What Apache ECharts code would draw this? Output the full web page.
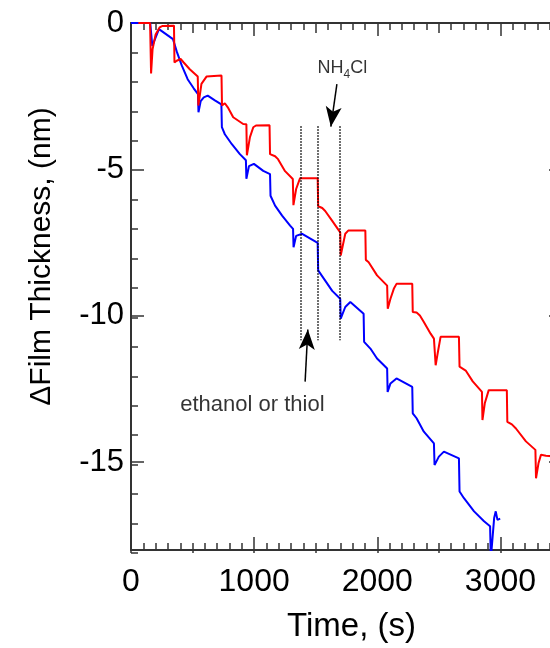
<!DOCTYPE html>
<html>
<head>
<meta charset="utf-8">
<script src="https://cdn.jsdelivr.net/npm/echarts@6/dist/echarts.min.js"></script>
<style>
    html, body {margin: 0; padding: 0; overflow: hidden; background: #fff;}
    #main {width: 564px; height: 648px;}
</style>
</head>
<body>
<div id="main"></div>
<script>
// red trace (time in s, film thickness change in nm)
const redTime = [60, 155, 163, 175, 200, 232, 257, 349, 353, 371, 403, 428, 477, 542, 547, 572, 613, 735, 739, 762,
    786, 830, 911, 937, 941, 966, 993, 1015, 1125, 1129, 1170, 1194, 1251, 1314, 1319, 1341, 1373, 1516, 1520, 1553,
    1577, 1634, 1699, 1703, 1740, 1764, 1903, 1907, 1930, 1998, 2080, 2085, 2107, 2134, 2156, 2284, 2288, 2319, 2346, 2378,
    2433, 2460, 2474, 2490, 2514, 2663, 2668, 2718, 2775, 2850, 2854, 2873, 2905, 3052, 3056, 3093, 3126, 3207, 3284, 3289,
    3309, 3329, 3370, 3420];
const redThick = [0, 0, -1.72, -0.90, -0.39, -0.15, -0.10, -0.09, -1.35, -1.29, -1.23, -1.35, -1.58, -1.83, -2.82, -2.08, -1.83, -1.79, -2.82, -2.74,
    -2.88, -3.22, -3.45, -3.46, -4.52, -3.90, -3.56, -3.50, -3.49, -4.48, -4.55, -4.65, -5.06, -5.33, -6.22, -5.67, -5.30, -5.30, -6.26, -6.32,
    -6.42, -6.76, -7.15, -7.94, -7.20, -7.09, -7.09, -8.09, -8.17, -8.62, -8.97, -9.76, -9.42, -9.08, -8.91, -8.91, -9.87, -9.89, -9.99, -10.21,
    -10.61, -10.78, -11.69, -11.29, -10.72, -10.72, -11.74, -11.87, -12.24, -12.60, -13.56, -12.99, -12.54, -12.54, -13.62, -13.71, -13.85, -14.29, -14.58, -15.55,
    -15.04, -14.75, -14.78, -14.80];

// blue trace
const blueTime = [0, 156, 173, 227, 341, 371, 412, 460, 509, 544, 548, 566, 591, 623, 681, 734, 738, 762, 819, 884,
    933, 937, 958, 998, 1074, 1129, 1133, 1170, 1227, 1292, 1316, 1320, 1341, 1390, 1516, 1520, 1577, 1634, 1699, 1703,
    1740, 1781, 1889, 1893, 1944, 1998, 2080, 2084, 2107, 2156, 2284, 2288, 2319, 2378, 2460, 2465, 2500, 2541, 2663, 2668,
    2704, 2786, 2867, 2916, 2922, 2949, 2962, 2976, 2998];
const blueThick = [0, 0, -0.78, -0.21, -0.55, -0.97, -1.45, -1.92, -2.23, -2.43, -3.05, -2.67, -2.54, -2.48, -2.64, -2.78, -3.56, -3.80, -4.14, -4.48,
    -4.69, -5.32, -4.89, -4.81, -5.05, -5.16, -5.90, -6.24, -6.58, -6.92, -7.03, -7.66, -7.27, -7.20, -7.51, -8.45, -8.80, -9.15, -9.42, -10.10,
    -9.70, -9.53, -9.93, -10.89, -11.12, -11.46, -11.80, -12.60, -12.31, -12.14, -12.43, -13.33, -13.50, -13.96, -14.36, -15.10, -14.81, -14.64, -14.87, -16.00,
    -16.23, -16.68, -17.02, -17.19, -18.3, -16.91, -16.68, -16.97, -16.93];

// axis ticks
const xMajorTicks = [0, 1000, 2000, 3000];
const yMajorTicks = [0, -5, -10, -15];

// annotations: dotted marker lines, arrows and their texts
const markerTimes = [1382, 1518, 1694];
const markerTop = -3.53;
const markerBottom = -10.84;
const arrowFrom = [[1414, -12.25], [1672, -2.09]];
const arrowTo = [[1436, -10.47], [1623, -3.54]];
const noteAt = [[986, -13.03], [1716, -1.53]];
const noteText = ['ethanol or thiol', '{a|NH}{b|4}{a|Cl}'];

const FONT = '"Liberation Sans", Arial, sans-serif';
const AXIS_COLOR = '#333';

const zip = (xs, ys) => xs.map((x, i) => [x, ys[i]]);

function xAxisOf(gridIndex, position, tickLen, interval, withLabels) {
    return {
        gridIndex,
        type: 'value',
        position,
        min: 0,
        max: 3500,
        interval,
        axisLine: {show: gridIndex === 0, onZero: false, lineStyle: {color: AXIS_COLOR, width: 2}},
        axisTick: {inside: true, length: tickLen, lineStyle: {color: AXIS_COLOR, width: 1.5}},
        minorTick: {show: gridIndex === 0, splitNumber: 10, length: 7, lineStyle: {color: AXIS_COLOR, width: 1.5}},
        axisLabel: {
            show: withLabels,
            customValues: xMajorTicks,
            margin: 16,
            fontSize: 32,
            fontFamily: FONT,
            color: '#000',
            formatter: v => String(v)
        },
        splitLine: {show: false},
        minorSplitLine: {show: false}
    };
}

function yAxisOf(gridIndex, position, withLabels) {
    let major = gridIndex === 0;
    let axis = {
        gridIndex,
        type: 'value',
        position,
        min: -18,
        max: 0,
        axisLine: {show: major, onZero: false, lineStyle: {color: AXIS_COLOR, width: 2}},
        axisTick: {inside: true, length: major ? 13 : 7, lineStyle: {color: AXIS_COLOR, width: 1.5}},
        axisLabel: {
            show: withLabels,
            margin: 7,
            fontSize: 31,
            fontFamily: FONT,
            color: '#000'
        },
        splitLine: {show: false}
    };
    if (major) {
        axis.axisTick.customValues = yMajorTicks;
        axis.axisLabel.customValues = yMajorTicks;
    } else {
        axis.interval = 1;
    }
    return axis;
}

const chart = echarts.init(document.getElementById('main'));

let xBottom = xAxisOf(0, 'bottom', 13, 1000, true);
xBottom.name = 'Time, (s)';
xBottom.nameLocation = 'middle';
xBottom.nameGap = 60;
xBottom.nameTextStyle = {fontSize: 33, fontFamily: FONT, color: '#000', padding: [0, 0, 0, 10]};

let yLeft = yAxisOf(0, 'left', true);
yLeft.name = '\u0394Film Thickness, (nm)';
yLeft.nameLocation = 'middle';
yLeft.nameGap = 74;
yLeft.nameTextStyle = {fontSize: 30, fontFamily: FONT, color: '#000', padding: [0, 0, 0, 60]};

const markerLines = markerTimes.map(t => [{coord: [t, markerTop]}, {coord: [t, markerBottom]}]);
const arrowLines = arrowFrom.map((p, i) => [{coord: p}, {coord: arrowTo[i]}]);

chart.setOption({
    animation: false,
    grid: [
        {left: 131, top: 23, width: 431, height: 530},
        {left: 131, top: 23, width: 431, height: 530}
    ],
    xAxis: [
        xBottom,
        xAxisOf(0, 'top', 13, 1000, false),
        xAxisOf(1, 'bottom', 10, 500, false),
        xAxisOf(1, 'top', 10, 500, false)
    ],
    yAxis: [
        yLeft,
        yAxisOf(0, 'right', false),
        yAxisOf(1, 'left', false),
        yAxisOf(1, 'right', false)
    ],
    series: [
        {
            type: 'line',
            data: zip(blueTime, blueThick),
            showSymbol: false,
            lineStyle: {color: '#0000ff', width: 2},
            itemStyle: {color: '#0000ff'},
            z: 2
        },
        {
            type: 'line',
            data: zip(redTime, redThick),
            showSymbol: false,
            lineStyle: {color: '#ff0000', width: 2},
            itemStyle: {color: '#ff0000'},
            z: 3
        },
        {
            type: 'scatter',
            symbolSize: 0,
            z: 5,
            silent: true,
            data: noteAt.map((p, i) => ({value: p, text: noteText[i]})),
            label: {
                show: true,
                position: 'inside',
                color: '#000',
                fontFamily: FONT,
                fontSize: 22,
                formatter: p => p.data.text,
                rich: {
                    a: {fontSize: 18, lineHeight: 26, verticalAlign: 'middle', fontFamily: FONT, color: '#000'},
                    b: {fontSize: 12, lineHeight: 26, verticalAlign: 'bottom', fontFamily: FONT, color: '#000'}
                }
            },
            markLine: {
                silent: true,
                animation: false,
                label: {show: false},
                symbol: ['none', 'none'],
                lineStyle: {color: '#000', type: 'dotted', width: 1.5},
                data: markerLines.concat(arrowLines.map(pair => [
                    Object.assign({}, pair[0], {symbol: 'none', lineStyle: {type: 'solid', width: 1.5, color: '#000'}}),
                    Object.assign({}, pair[1], {symbol: 'arrow', symbolSize: [12, 20]})
                ]))
            }
        }
    ]
});
</script>
</body>
</html>
